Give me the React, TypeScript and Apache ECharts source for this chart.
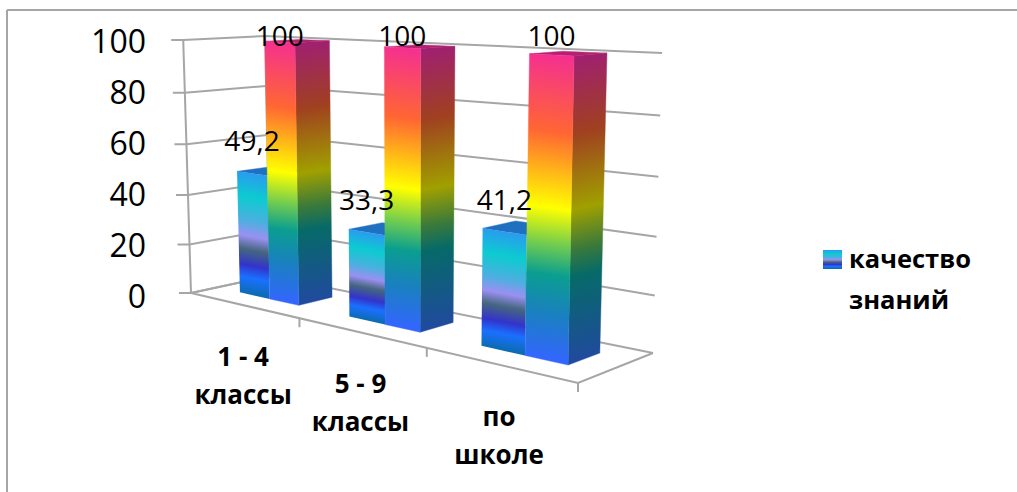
import React, { useEffect, useRef } from "react";
import * as echarts from "echarts";

const categories = ["1 - 4\nклассы", "5 - 9\nклассы", "по\nшколе"];
const qualityValues = [49.2, 33.3, 41.2];
const totalValues = [100, 100, 100];
const yTicks = [0, 20, 40, 60, 80, 100];
const legendName = "качество знаний";
const FONT = '"Open Sans", sans-serif';
const GRAY = "#A6A6A6";

type P = [number, number];

function solveHomography(p00: P, p10: P, p11: P, p01: P) {
  const dx1 = p10[0] - p11[0], dx2 = p01[0] - p11[0], sx = p00[0] - p10[0] + p11[0] - p01[0];
  const dy1 = p10[1] - p11[1], dy2 = p01[1] - p11[1], sy = p00[1] - p10[1] + p11[1] - p01[1];
  const D = dx1 * dy2 - dx2 * dy1;
  const g = (sx * dy2 - dx2 * sy) / D;
  const h = (dx1 * sy - sx * dy1) / D;
  const a = p10[0] - p00[0] + g * p10[0], b = p01[0] - p00[0] + h * p01[0], c = p00[0];
  const d = p10[1] - p00[1] + g * p10[1], e = p01[1] - p00[1] + h * p01[1], f = p00[1];
  return (s: number, w: number): P => {
    const q = g * s + h * w + 1;
    return [(a * s + b * w + c) / q, (d * s + e * w + f) / q];
  };
}

// view of the 3D box: the floor's corners, and how verticals converge above it
const floorH = solveHomography([191, 293], [578, 383], [653, 353], [270, 276]);
const ceilPoint = (f: P): P => [
  f[0] + 0.0365 * (f[0] - 404),
  -0.0015 * f[0] + 0.228 * f[1] - 26.5,
];

const project = (u: number, w: number, t: number): P => {
  const s = u / categories.length;
  const f = floorH(s, w), c = ceilPoint(f);
  const T = (t * 0.95) / (1 - 0.05 * t);
  return [f[0] + (c[0] - f[0]) * T, f[1] + (c[1] - f[1]) * T];
};
// small correction of the spacing along the front edge
const warp = (u: number, k: number) => u + k * u * (categories.length - u);

// axis position (pixels from the library's scales) -> box position
const toBox = (params: any, api: any) => {
  const sys = params.coordSys;
  const pt = api.coord([api.value(0), api.value(1)]);
  const band = api.size([1, 0])[0];
  return { u: (pt[0] - sys.x) / band, t: (sys.y + sys.height - pt[1]) / sys.height };
};

const shortStops: [number, string][] = [
  [0, "#2A9BEF"], [0.2, "#0CCBD0"], [0.4, "#4FAEE0"], [0.52, "#9A90F2"], [0.63, "#45667F"],
  [0.76, "#3333CC"], [0.86, "#1A70FF"], [1, "#0B6BB0"],
];
const tallFrontStops: [number, string][] = [
  [0, "#F5308F"], [0.25, "#FF6633"], [0.5, "#FFFF00"], [0.62, "#70CC50"], [0.72, "#0A9E90"],
  [0.85, "#1A80C0"], [1, "#3366FF"],
];
const tallSideStops: [number, string][] = [
  [0, "#A02070"], [0.25, "#A04020"], [0.5, "#A0A000"], [0.63, "#3A7A3A"], [0.72, "#066A68"],
  [1, "#204A9E"],
];

const grad = (stops: [number, string][], x1: number, y1: number, x2: number, y2: number) => ({
  type: "linear", x: x1, y: y1, x2, y2, global: true,
  colorStops: stops.map(([offset, color]) => ({ offset, color })),
});

// gradient along the face from top to bottom, with bands following the face's slant
const faceGradient = (stops: [number, string][], tl: P, tr: P, br: P, bl: P) => {
  const cx = (tl[0] + tr[0] + br[0] + bl[0]) / 4;
  const topY = (tl[1] + tr[1]) / 2, botY = (bl[1] + br[1]) / 2;
  const slope = ((tr[1] - tl[1]) + (br[1] - bl[1])) / 2 / ((tr[0] - tl[0] + br[0] - bl[0]) / 2);
  const h = botY - topY;
  const k = 1 / (1 + slope * slope);
  return grad(stops, cx, topY, cx - slope * h * k, topY + h * k);
};

const W_FRONT = 0.32, W_BACK = 0.74;
const U_LEFT = -0.27, U_MID = 0.02, U_RIGHT = 0.29;
const BAR_WARP = 0.006, LABEL_WARP = 0.022;

const poly = (points: P[], fill: any) => ({ type: "polygon", shape: { points }, style: { fill, stroke: fill, lineWidth: 0.4 }, silent: true });
const line = (points: P[], width = 2) => ({
  type: "polyline", shape: { points }, style: { fill: "none", stroke: GRAY, lineWidth: width }, silent: true,
});

const renderShort = (params: any, api: any) => {
  const { u, t } = toBox(params, api);
  const a = warp(u + U_LEFT, BAR_WARP), b = warp(u + U_MID, BAR_WARP);
  const tl = project(a, W_FRONT, t), tr = project(b, W_FRONT, t);
  const bl = project(a, W_FRONT, 0), br = project(b, W_FRONT, 0);
  return {
    type: "group",
    children: [
      poly([tl, tr, project(b, W_BACK, t), project(a, W_BACK, t)], "#2070C2"),
      { ...poly([tl, tr, br, bl], faceGradient(shortStops, tl, tr, br, bl)), style: { fill: faceGradient(shortStops, tl, tr, br, bl), stroke: "none" } },
    ],
  };
};

const renderTall = (params: any, api: any) => {
  const { u, t } = toBox(params, api);
  const a = warp(u + U_MID, BAR_WARP), b = warp(u + U_RIGHT, BAR_WARP);
  const tl = project(a, W_FRONT, t), tr = project(b, W_FRONT, t);
  const bl = project(a, W_FRONT, 0), br = project(b, W_FRONT, 0);
  const tb = project(b, W_BACK, t), bb = project(b, W_BACK, 0);
  return {
    type: "group",
    children: [
      poly([tl, tr, tb, project(a, W_BACK, t)], "#B5206F"),
      poly([tr, tb, bb, br], faceGradient(tallSideStops, tr, tb, bb, br)),
      poly([tl, tr, br, bl], faceGradient(tallFrontStops, tl, tr, br, bl)),
    ],
  };
};

const valueLabel = (x: number, y: number, text: string) => ({
  type: "text", x, y,
  style: { text, fill: "#000", font: `28px ${FONT}`, align: "center", verticalAlign: "middle" },
  silent: true,
});

const renderQualityLabel = (params: any, api: any) => {
  const { u, t } = toBox(params, api);
  const p = project(warp(u + (U_LEFT + U_MID) / 2, BAR_WARP), W_FRONT, t);
  return valueLabel(p[0], p[1] - 33, String(api.value(1)).replace(".", ","));
};
const renderTotalLabel = (params: any, api: any) => {
  const { u, t } = toBox(params, api);
  const p = project(warp(u + (U_MID + U_RIGHT) / 2, BAR_WARP), W_FRONT, t);
  return valueLabel(p[0], Math.min(p[1] - 6, 35), String(api.value(1)));
};

const renderGridLine = (params: any, api: any) => {
  const { t } = toBox(params, api);
  const n = categories.length;
  const front = project(0, 0, t);
  return line([[front[0] - 12, front[1]], front, project(0, 1, t), project(n, 1, t)]);
};

const renderFloor = (params: any, api: any) => {
  const { u } = toBox(params, api);
  const n = categories.length;
  const tickBase = project(warp(u + 0.5, LABEL_WARP), 0, 0);
  const mid = project(warp(u, LABEL_WARP), 0, 0);
  const children: any[] = [line([tickBase, [tickBase[0], tickBase[1] + 9]])];
  if (params.dataIndex === 0) {
    children.push(
      line([project(0, 1, 0), project(0, 0, 0), project(n, 0, 0), project(n, 1, 0)]),
      line([project(0, 0, 1), project(0, 0, 0)]),
      line([project(0, 1, 1), project(0, 1, 0)]),
    );
  }
  children.push({
    type: "text",
    x: mid[0], y: mid[1] + 70,
    style: {
      text: categories[params.dataIndex], fill: "#000", font: `bold 26px ${FONT}`,
      lineHeight: 38, align: "center", verticalAlign: "middle",
    },
    silent: true,
  });
  return { type: "group", children };
};

const legendGradient = {
  type: "linear", x: 0, y: 0, x2: 0, y2: 1,
  colorStops: shortStops.map(([offset, color]) => ({ offset, color })),
};

export default function App() {
  const ref = useRef<HTMLDivElement>(null);
  useEffect(() => {
    const chart = echarts.init(ref.current!, undefined, { renderer: "svg" });
    const idx = categories.map((_, i) => i);
    chart.setOption({
      animation: false,
      backgroundColor: "#fff",
      grid: { left: 170, top: 40, width: 480, height: 255 },
      xAxis: { type: "category", data: categories, show: false },
      yAxis: {
        type: "value", min: 0, max: 100, interval: 20,
        axisLine: { show: false }, axisTick: { show: false }, splitLine: { show: false },
        axisLabel: { fontFamily: FONT, fontSize: 32, color: "#000", margin: 24 },
      },
      legend: {
        left: 823, top: 200, padding: 0, itemWidth: 19, itemHeight: 19, icon: "rect",
        selectedMode: false,
        data: [{ name: legendName, itemStyle: { opacity: 0 } }],
        formatter: (n: string) => n.replace(" ", "\n"),
        textStyle: { fontFamily: FONT, fontWeight: "bold", fontSize: 25.5, color: "#000", lineHeight: 41, padding: [75, 0, 0, 2] },
      },
      graphic: [
        { type: "line", shape: { x1: 7, y1: 10, x2: 1017, y2: 10 }, style: { stroke: GRAY, lineWidth: 2 }, silent: true },
        { type: "line", shape: { x1: 7, y1: 10, x2: 7, y2: 492 }, style: { stroke: GRAY, lineWidth: 2 }, silent: true },
        { type: "rect", shape: { x: 823, y: 250, width: 19, height: 19 }, style: { fill: legendGradient }, silent: true },
      ],
      series: [
        { type: "custom", name: "grid", z: 1, silent: true, renderItem: renderGridLine, data: yTicks.map((v) => [0, v]) },
        { type: "custom", name: "floor", z: 1, silent: true, renderItem: renderFloor, data: idx.map((i) => [i, 0]) },
        { type: "custom", name: legendName, z: 2, silent: true, renderItem: renderShort, itemStyle: { color: legendGradient }, data: qualityValues.map((v, i) => [i, v]) },
        { type: "custom", name: "100%", z: 3, silent: true, renderItem: renderTall, data: totalValues.map((v, i) => [i, v]) },
        { type: "custom", name: "labels1", z: 5, silent: true, renderItem: renderQualityLabel, data: qualityValues.map((v, i) => [i, v]) },
        { type: "custom", name: "labels2", z: 5, silent: true, renderItem: renderTotalLabel, data: totalValues.map((v, i) => [i, v]) },
      ],
    });
    return () => chart.dispose();
  }, []);
  return <div ref={ref} style={{ position: "fixed", left: 0, top: 0, width: 1017, height: 492 }} />;
}
